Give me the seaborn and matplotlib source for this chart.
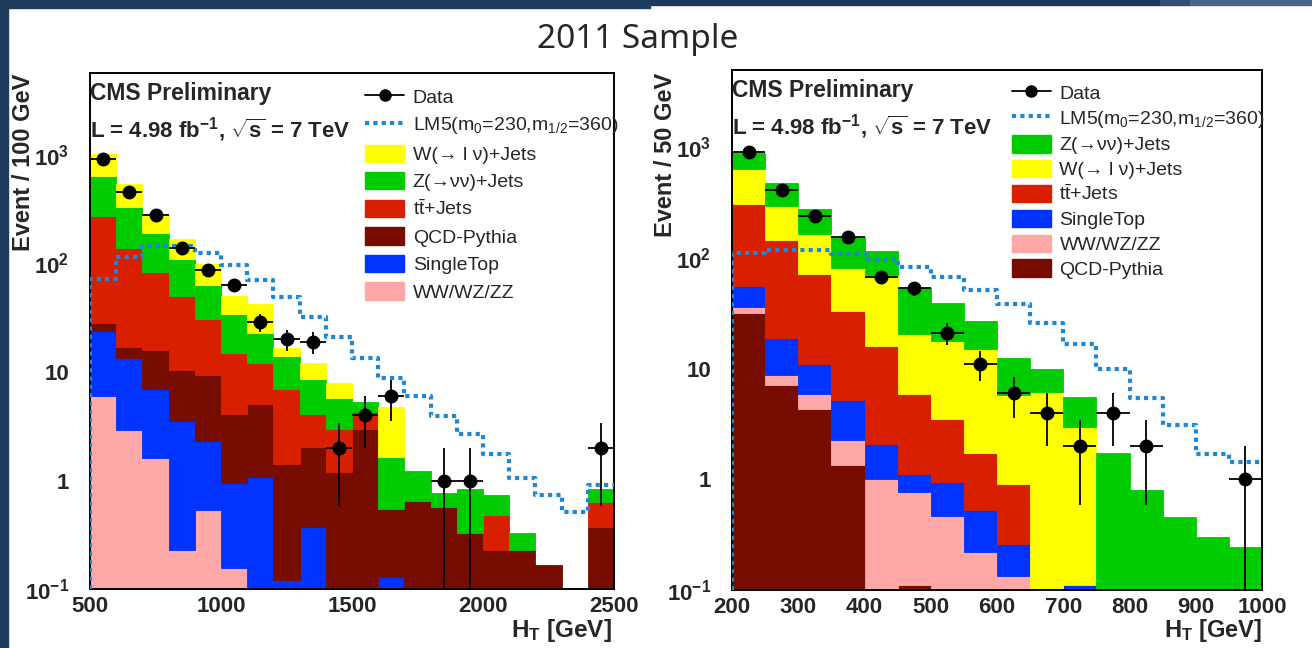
import numpy as np
import pandas as pd
import matplotlib
matplotlib.use("Agg")
import matplotlib.pyplot as plt
import seaborn as sns
from matplotlib.lines import Line2D
from matplotlib.patches import Patch, Rectangle
from matplotlib.ticker import LogLocator, NullFormatter

sns.set_style("white")
plt.rcParams['font.family'] = ['Liberation Sans', 'DejaVu Sans']
plt.rcParams['mathtext.fontset'] = 'custom'
plt.rcParams['mathtext.rm'] = 'Liberation Sans'
plt.rcParams['mathtext.it'] = 'Liberation Sans:italic'
plt.rcParams['mathtext.bf'] = 'Liberation Sans:bold'

# process names (legend text)
W_JETS = 'W(→ l ν)+Jets'
Z_JETS = 'Z(→νν)+Jets'
TTBAR = r't$\bar{\rm t}$+Jets'
QCD = 'QCD-Pythia'
SINGLE_TOP = 'SingleTop'
DIBOSON = 'WW/WZ/ZZ'
LM5 = r'LM5(m$_{0}$=230,m$_{1/2}$=360)'

colors = {W_JETS: '#ffff00', Z_JETS: '#00cc00', TTBAR: '#d82000',
          QCD: '#770c00', SINGLE_TOP: '#0033ff', DIBOSON: '#ffa8a8'}
lm5_color = '#1e88d6'

# ---- left panel: HT 500-2500 GeV, 100 GeV bins
edges_a = np.arange(500, 2501, 100)
w_jets_a = [383, 200, 98, 59, 35, 15.9, 19, 2.5, 3.3, 2.2, 0, 3.16, 0, 0, 0, 0, 0, 0, 0, 0]
z_jets_a = [370, 195, 107, 61, 32, 19.5, 11, 7.1, 4.6, 2.7, 1.0, 1.09, 0.57, 0.19, 0.50, 0.26, 0.10, 0, 0, 0.19]
ttbar_a = [248, 123, 67, 39.5, 21.7, 11.0, 6.9, 5.47, 2.07, 1.8, 1.3, 0, 0, 0, 0, 0.25, 0, 0, 0, 0.27]
qcd_a = [4.5, 3.4, 9.1, 7.0, 7.0, 3.16, 4.03, 1.31, 1.66, 1.2, 3.0, 0.42, 0.65, 0.57, 0.33, 0.23, 0.23, 0.165, 0, 0.37]
single_top_a = [18, 10.7, 5.3, 3.27, 1.76, 0.785, 1.07, 0.12, 0.37, 0, 0, 0.128, 0, 0, 0, 0, 0, 0, 0, 0]
diboson_a = [6.0, 2.9, 1.6, 0.23, 0.54, 0.155, 0, 0, 0, 0, 0, 0, 0, 0, 0, 0, 0, 0, 0, 0]
lm5_a = [72, 114, 144, 144, 124, 96, 70, 49, 32, 21, 13.4, 8.8, 6.0, 3.9, 2.7, 1.74, 1.05, 0.73, 0.51, 0.91]
data_a = [920, 460, 280, 140, 88, 63, 29, 20, 19, 2, 4, 6, 0, 1, 1, 0, 0, 0, 0, 2]

# ---- right panel: HT 200-1000 GeV, 50 GeV bins
edges_b = np.arange(200, 1001, 50)
z_jets_b = [265, 173, 112, 73, 45, 33, 21.7, 12, 6.7, 3.9, 2.53, 1.74, 0.80, 0.46, 0.30, 0.245]
w_jets_b = [325, 151, 92, 48, 54, 14.8, 14.3, 13.3, 4.9, 6.1, 2.86, 0, 0, 0, 0, 0]
ttbar_b = [249, 127, 60, 27.8, 13.8, 4.8, 2.55, 1.19, 0.64, 0, 0, 0, 0, 0, 0, 0]
single_top_b = [20, 10.3, 5.1, 2.95, 1.06, 0.35, 0.48, 0.305, 0.127, 0, 0.11, 0, 0, 0, 0, 0]
diboson_b = [4, 1.6, 1.6, 0.89, 1.01, 0.65, 0.47, 0.22, 0.133, 0, 0, 0, 0, 0, 0, 0]
qcd_b = [32, 7.1, 4.3, 1.36, 0, 0.11, 0, 0, 0, 0, 0, 0, 0, 0, 0, 0]
lm5_b = [111, 117, 117, 108, 97, 83, 67, 51, 38, 26, 16.8, 9.9, 5.4, 3.1, 1.7, 1.43]
data_b = [900, 410, 240, 155, 67, 53, 21, 11, 6, 4, 2, 4, 2, 0, 0, 1]


def draw_panel(ax, edges, layers, lm5, data, ylim, major, minor):
    centers = (edges[:-1] + edges[1:]) / 2
    order = [name for name, _ in layers]
    frame = pd.DataFrame([(c, v, name) for name, vals in layers for c, v in zip(centers, vals)],
                         columns=['ht', 'events', 'process'])
    # first hue level ends up on top of the stack
    sns.histplot(data=frame, x='ht', weights='events', hue='process', hue_order=order,
                 multiple='stack', bins=[float(e) for e in edges], palette=colors, alpha=1,
                 linewidth=0, legend=False, ax=ax)
    for p in ax.patches:
        if p.get_height() <= 0:
            p.set_visible(False)
        else:
            p.set_edgecolor(p.get_facecolor())
            p.set_linewidth(0.6)
    ax.set_yscale('log')

    # signal as dotted step line, dropping to the floor on the left edge
    ax.plot(np.r_[edges[0], edges], np.r_[ylim[0], lm5, lm5[-1]], drawstyle='steps-post',
            color=lm5_color, lw=3, ls=(0, (1, 1)), dash_capstyle='butt', zorder=4)

    data = np.asarray(data, dtype=float)
    has = data > 0
    err = np.sqrt(data[has])
    ax.errorbar(centers[has], data[has], xerr=(edges[1] - edges[0]) / 2,
                yerr=[np.minimum(err, data[has] * 0.999), err], fmt='o', color='black',
                ms=9, elinewidth=1.3, capsize=0, zorder=6)

    ax.set_xlim(edges[0], edges[-1])
    ax.set_ylim(*ylim)
    ax.set_xlabel('')
    ax.set_ylabel('')

    ax.set_xticks(major)
    ax.set_xticklabels([str(v) for v in major], fontweight='bold')
    ax.set_xticks(minor, minor=True)
    ax.set_yticks([0.1, 1, 10, 100, 1000])
    ax.set_yticklabels([r'$\mathbf{10^{-1}}$', '1', '10', r'$\mathbf{10^{2}}$', r'$\mathbf{10^{3}}$'],
                       fontweight='bold')
    ax.yaxis.set_minor_locator(LogLocator(base=10, subs=range(2, 10), numticks=30))
    ax.yaxis.set_minor_formatter(NullFormatter())
    ax.tick_params(axis='both', which='both', direction='in', top=False, right=False,
                   color='black', width=1.2)
    ax.tick_params(axis='x', which='major', length=10, labelsize=16, pad=5)
    ax.tick_params(axis='x', which='minor', length=5.5)
    ax.tick_params(axis='y', which='major', length=11.5, labelsize=16, pad=15)
    ax.tick_params(axis='y', which='minor', length=6.5)
    for s in ax.spines.values():
        s.set_color('black')
        s.set_linewidth(1.4)

    ax.text(0.0, 0.961, 'CMS Preliminary', transform=ax.transAxes, fontsize=16.5,
            fontweight='bold', va='center', ha='left')
    ax.text(0.0, 0.890, r'L = 4.98 fb$^{\mathbf{-1}}$, $\mathbf{\sqrt{s}}$ = 7 TeV',
            transform=ax.transAxes, fontsize=16, fontweight='bold', va='center', ha='left')

    handles = [Line2D([], [], color='black', marker='o', ms=8, lw=1.3),
               Line2D([], [], color=lm5_color, lw=3, ls=(0, (1, 1)), dash_capstyle='butt')]
    handles += [Patch(facecolor=colors[n], edgecolor=colors[n]) for n in order]
    return handles, ['Data', LM5] + order


fig = plt.figure(figsize=(13.12, 6.48), dpi=100)
W, H = 1312, 648
ax_a = fig.add_axes([90 / W, 1 - 589 / H, 524 / W, 516 / H])
ax_b = fig.add_axes([732 / W, 1 - 590 / H, 530 / W, 520 / H])

layers_a = [(W_JETS, w_jets_a), (Z_JETS, z_jets_a), (TTBAR, ttbar_a), (QCD, qcd_a),
            (SINGLE_TOP, single_top_a), (DIBOSON, diboson_a)]
layers_b = [(Z_JETS, z_jets_b), (W_JETS, w_jets_b), (TTBAR, ttbar_b), (SINGLE_TOP, single_top_b),
            (DIBOSON, diboson_b), (QCD, qcd_b)]

h_a, l_a = draw_panel(ax_a, edges_a, layers_a, lm5_a, data_a, (0.1, 5700),
                      [500, 1000, 1500, 2000, 2500], np.arange(500, 2501, 100))
h_b, l_b = draw_panel(ax_b, edges_b, layers_b, lm5_b, data_b, (0.1, 4980),
                      list(range(200, 1001, 100)), np.arange(200, 1001, 20))

leg_kw = dict(loc='upper left', frameon=False, fontsize=14, handlelength=2.0, handleheight=1.0,
              handletextpad=0.45, borderpad=0, borderaxespad=0)
ax_a.legend(h_a, l_a, bbox_to_anchor=(0.525, 0.972), labelspacing=0.42, **leg_kw)
ax_b.legend(h_b, l_b, bbox_to_anchor=(0.528, 0.974), labelspacing=0.28, **leg_kw)

# axis titles, ROOT style
fig.text(24 / W, 1 - 74 / H, 'Event / 100 GeV', rotation=90, ha='center', va='top',
         fontsize=17, fontweight='bold')
fig.text(665 / W, 1 - 73 / H, 'Event / 50 GeV', rotation=90, ha='center', va='top',
         fontsize=17, fontweight='bold')
fig.text(612 / W, 1 - 630 / H, r'H$_{\mathbf{T}}$ [GeV]', ha='right', va='center',
         fontsize=17.5, fontweight='bold')
fig.text(1262 / W, 1 - 630 / H, r'H$_{\mathbf{T}}$ [GeV]', ha='right', va='center',
         fontsize=17, fontweight='bold')

fig.text(638 / W, 1 - 40 / H, '2011 Sample', ha='center', va='center', fontsize=24,
         family=['Noto Sans', 'DejaVu Sans'])

# slide frame
navy = '#1b3a5c'
fig.add_artist(Rectangle((0, 0), 8 / W, 1, transform=fig.transFigure, color=navy, zorder=-1))
fig.add_artist(Rectangle((0, 1 - 8 / H), 650 / W, 8 / H, transform=fig.transFigure, color=navy, zorder=-1))
fig.add_artist(Rectangle((650 / W, 1 - 5 / H), 510 / W, 5 / H, transform=fig.transFigure, color=navy, zorder=-1))
fig.add_artist(Rectangle((1160 / W, 1 - 5 / H), 30 / W, 5 / H, transform=fig.transFigure, color='#30506f', zorder=-1))
fig.add_artist(Rectangle((1190 / W, 1 - 5 / H), 122 / W, 5 / H, transform=fig.transFigure, color='#4a6584', zorder=-1))

fig.savefig('out.png', dpi=100)
